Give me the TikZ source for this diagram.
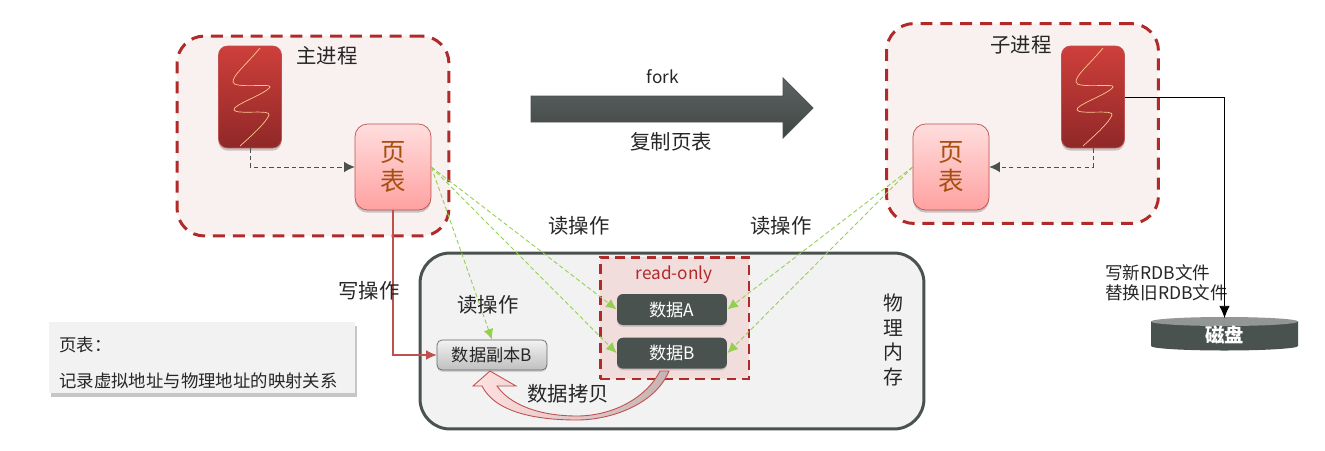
\documentclass[tikz,border=0pt]{standalone}
\usepackage{fontspec}
\setmainfont{Noto Sans CJK SC}
\usetikzlibrary{shapes,shadows}
\usetikzlibrary{arrows.meta}
\usetikzlibrary{positioning}
\definecolor{boxred}{HTML}{B02A2A}
\definecolor{slate}{HTML}{4A5250}
\definecolor{leaf}{HTML}{92D050}
\definecolor{wine}{HTML}{C0504D}
\definecolor{threadtop}{HTML}{CE3F3A}
\definecolor{threadlow}{HTML}{8F2828}
\definecolor{pagetext}{HTML}{A6500F}

\begin{document}
\begin{tikzpicture}[x=0.02cm,y=-0.02cm]
\tikzset{
  lbl/.style={font=\fontsize{11.6}{14}\selectfont,text=black!85,inner sep=0pt},
  procbox/.style={dashed,draw=boxred,line width=1.7pt,dash pattern=on 6.8pt off 4.5pt,fill=boxred!7,rounded corners=0.55cm,minimum width=5.44cm,minimum height=4.0cm},
  thread/.style={draw=wine,rounded corners=0.18cm,top color=threadtop,bottom color=threadlow,minimum width=1.26cm,minimum height=2.04cm,drop shadow={shadow xshift=0pt,shadow yshift=-1.5pt,opacity=.4}},
  pagebox/.style={draw=wine,rounded corners=0.25cm,top color=red!13,bottom color=red!37,text=pagetext,align=center,font=\fontsize{14.5}{17}\selectfont,minimum width=1.52cm,minimum height=1.72cm,inner sep=0pt,drop shadow={shadow xshift=0pt,shadow yshift=-1.5pt,opacity=.4}},
  databox/.style={fill=slate,rounded corners=0.12cm,text=white,font=\fontsize{9.8}{12}\selectfont,minimum width=2.2cm,minimum height=0.62cm,inner sep=0pt,drop shadow={shadow xshift=0pt,shadow yshift=-1pt,opacity=.3}},
  readline/.style={leaf,line width=0.5pt,dash pattern=on 2.5pt off 1.5pt,-{Latex[length=6pt,width=5.5pt]}},
  linkline/.style={slate,line width=0.5pt,dash pattern=on 2.5pt off 1.8pt,-{Latex[length=6pt,width=6pt]}}
}
\useasboundingbox (0,0) rectangle (1325,450);

% process boxes
\node[procbox](mainbox) at (313,136){};
\node[procbox](childbox) at (1022.5,123.5){};
\node[thread](mainproc) at (250,97){};
\node[thread](childproc) at (1093,97){};
\foreach \p in {mainproc,childproc}{
  \draw[orange!45!white,line width=0.4pt] ([shift={(10,-49)}]\p.center) .. controls ([shift={(-6,-30)}]\p.center) and ([shift={(-17,-22)}]\p.center) .. ([shift={(-17,-15)}]\p.center) .. controls ([shift={(-17,-8)}]\p.center) and ([shift={(23,-14)}]\p.center) .. ([shift={(20,-10)}]\p.center) .. controls ([shift={(16,-3)}]\p.center) and ([shift={(-18,8)}]\p.center) .. ([shift={(-16,13)}]\p.center) .. controls ([shift={(-14,18)}]\p.center) and ([shift={(22,12)}]\p.center) .. ([shift={(19,18)}]\p.center) .. controls ([shift={(16,26)}]\p.center) and ([shift={(0,40)}]\p.center) .. ([shift={(-10,49)}]\p.center);
}
\node[pagebox](maintable) at (393,167){页\\表};
\node[pagebox](childtable) at (951,167){页\\表};
\node[lbl](maintitle) at (327,56){主进程};
\node[lbl](childtitle) at (1021,45){子进程};

% fork arrow
\draw[draw=slate,top color=slate!90!white,bottom color=slate!85!black] (531,96) -- (783,96) -- (783,78) -- (813,108) -- (783,138) -- (783,122) -- (531,122) -- cycle;
\node[lbl,font=\fontsize{9.8}{12}\selectfont](forklabel) at (663,77){fork};
\node[lbl](copylabel) at (671,142){复制页表};

% memory
\node[draw=slate,line width=1.7pt,fill=black!5,rounded corners=0.6cm,minimum width=10.08cm,minimum height=3.52cm](memory) at (672,341){};
\node[dashed,draw=boxred,line width=1.7pt,dash pattern=on 5.5pt off 3.5pt,fill=boxred!16,minimum width=2.98cm,minimum height=2.44cm](readonly) at (674.5,318){};
\node[lbl,text=boxred,font=\fontsize{9.8}{12}\selectfont](rolabel) at (674,275){read-only};
\node[databox](dataa) at (672,309.5){数据A};
\node[databox](datab)[below=0.24cm of dataa]{数据B};
\node[draw=black!60,rounded corners=0.1cm,top color=black!5,bottom color=black!25,font=\fontsize{9.8}{12}\selectfont,text=black!85,minimum width=2.2cm,minimum height=0.6cm,inner sep=0pt,drop shadow={shadow xshift=0pt,shadow yshift=-1pt,opacity=.3}](copyb) at (492,355){数据副本B};
\node[lbl,align=center,font=\fontsize{11.3}{14.1}\selectfont](memlabel) at (893,340){物\\理\\内\\存};

% copy arrow
\draw[draw=wine,line width=0.5pt,left color=red!12,right color=red!25!black!30!white] (669,371) .. controls (655,405) and (610,420) .. (577,420) .. controls (535,420) and (495,412) .. (482,386) -- (473,386) -- (490,371) -- (516,386) -- (497,386) .. controls (510,405) and (540,416) .. (577,416) .. controls (610,416) and (645,400) .. (660,371) -- cycle;
\node[lbl](copytext) at (568,394){数据拷贝};

% disk
\fill[slate] (1151,321) -- (1151,346) arc[start angle=180,end angle=360,x radius=73.5,y radius=-4.5] -- (1298,321) -- cycle;
\fill[slate!60!white] (1224.5,321.5) ellipse[x radius=73.5,y radius=4.5];
\node[minimum width=2.94cm,minimum height=0.66cm,inner sep=0pt,text=white,font=\bfseries\fontsize{11}{12}\selectfont](disk) at (1224.5,335){磁盘};
\node[lbl,font=\fontsize{10}{11.4}\selectfont,align=left,anchor=west](rdblabel) at (1105,283){写新RDB文件\\替换旧RDB文件};

% legend
\node[fill=black!5,anchor=north west,minimum width=6.12cm,minimum height=1.42cm,drop shadow={shadow xshift=0.8pt,shadow yshift=-2pt,opacity=.45}](legend) at (49,322){};
\node[lbl,anchor=west,align=left,font=\fontsize{9.9}{20.4}\selectfont](legendtext) at (59,363){页表：\\记录虚拟地址与物理地址的映射关系};

% links
\draw[linkline](mainproc.south) |- (maintable.west);
\draw[linkline](childproc.south) |- (childtable.east);
\draw[readline](maintable.east) -- (dataa.west);
\draw[readline](maintable.east) -- (datab.west);
\draw[readline](maintable.east) -- (copyb.north);
\draw[readline](childtable.west) -- (dataa.east);
\draw[readline](childtable.west) -- (datab.east);
\draw[wine,line width=0.6pt,-{Latex[length=6pt,width=5.5pt]}](maintable.south) |- (copyb.west);
\draw[black,line width=0.5pt,-{Latex[length=7pt,width=6pt]}](childproc.east) -| (disk.north);

% labels
\node[lbl](writelabel) at (369,291){写操作};
\node[lbl](readleft) at (579,226){读操作};
\node[lbl](readright) at (781,226){读操作};
\node[lbl](readcopy) at (488,305){读操作};
\end{tikzpicture}
\end{document}
